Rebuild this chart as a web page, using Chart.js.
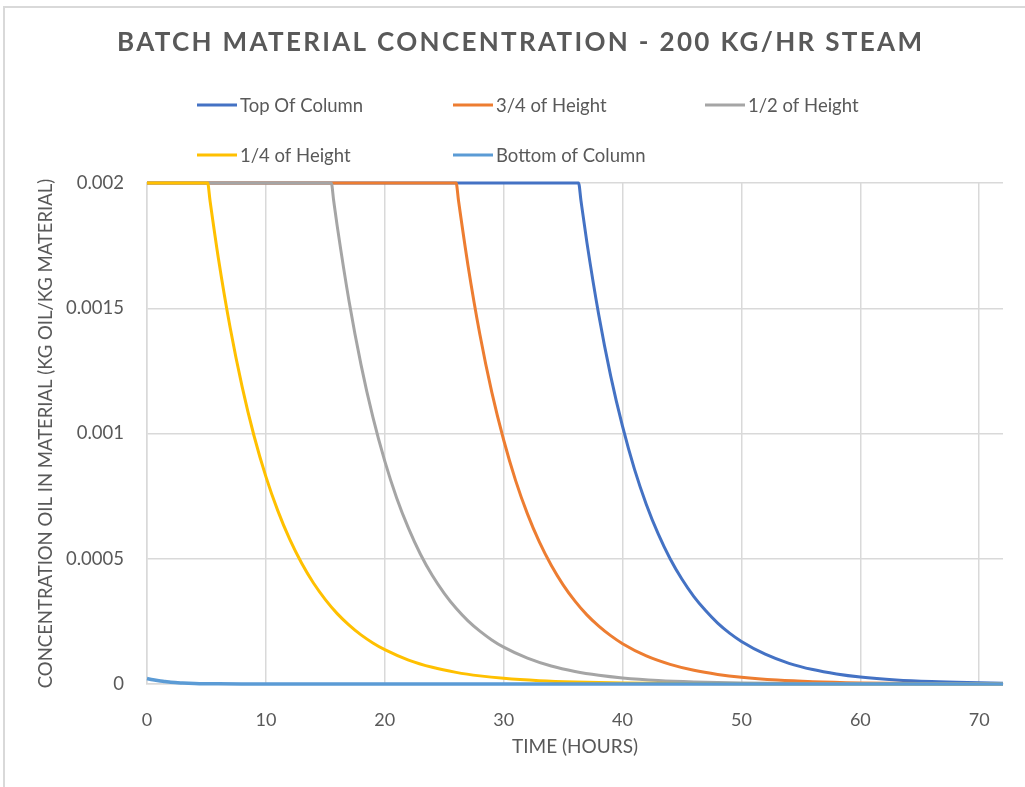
<!DOCTYPE html>
<html>
<head>
<meta charset="utf-8">
<title>Batch Material Concentration</title>
<script src="https://cdn.jsdelivr.net/npm/chart.js@4.4.1/dist/chart.umd.min.js"></script>
<style>
  html, body { margin: 0; padding: 0; background: #fff; }
  #wrap { width: 1025px; height: 787px; position: relative; }
</style>
</head>
<body>
<div id="wrap"><canvas id="chart"></canvas></div>
<script>
// Time (hours) and concentration (kg oil / kg material) for each sampling height
const topHours = [0, 36.3, 36.5, 37, 38, 39, 40, 41, 42, 43, 44, 45, 46, 47, 48, 49, 50, 52, 54, 56, 58, 60, 63, 66, 69, 72]
const topConc = [0.002, 0.002, 0.00193, 0.001763, 0.001473, 0.00123, 0.001028, 0.000858, 0.000717, 0.000599, 0.0005, 0.000418, 0.000349, 0.000292, 0.000243, 0.000203, 0.00017, 0.000119, 0.0000826, 0.0000576, 0.0000402, 0.000028, 0.0000164, 0.0000096, 0.0000056, 0.0000032]

const threeQuarterHours = [0, 26, 26.2, 27, 28, 29, 30, 31, 32, 33, 34, 35, 36, 37, 38, 39, 40, 42, 44, 46, 48, 50, 53, 56, 60, 65, 72]
const threeQuarterConc = [0.002, 0.002, 0.00193, 0.001671, 0.001395, 0.001165, 0.000974, 0.000813, 0.000679, 0.000567, 0.000474, 0.000396, 0.000331, 0.000276, 0.000231, 0.000193, 0.000161, 0.000112, 0.0000784, 0.0000546, 0.0000381, 0.0000266, 0.0000155, 0.000009, 0.0000044, 0.0000018, 0.0000005]

const halfHours = [0, 15.5, 15.7, 16, 17, 18, 19, 20, 21, 22, 23, 24, 25, 26, 27, 28, 29, 30, 32, 34, 36, 38, 40, 43, 46, 50, 55, 62, 72]
const halfConc = [0.002, 0.002, 0.00193, 0.001828, 0.001527, 0.001275, 0.001065, 0.00089, 0.000743, 0.000621, 0.000518, 0.000433, 0.000362, 0.000302, 0.000252, 0.000211, 0.000176, 0.000147, 0.000103, 0.0000716, 0.00005, 0.0000349, 0.0000244, 0.0000142, 0.0000083, 0.000004, 0.0000016, 0.0000005, 0.0000001]

const quarterHours = [0, 5.1, 5.3, 6, 7, 8, 9, 10, 11, 12, 13, 14, 15, 16, 17, 18, 19, 20, 22, 24, 26, 28, 30, 33, 36, 40, 45, 52, 72]
const quarterConc = [0.002, 0.002, 0.00193, 0.001701, 0.001421, 0.001187, 0.000991, 0.000828, 0.000692, 0.000578, 0.000483, 0.000403, 0.000337, 0.000281, 0.000235, 0.000196, 0.000164, 0.000137, 0.0000955, 0.0000666, 0.0000465, 0.0000324, 0.0000226, 0.0000132, 0.0000077, 0.0000037, 0.0000015, 0.0000004, 0]

const bottomHours = [0, 0.5, 1, 1.5, 2, 3, 4, 5, 6, 8, 72]
const bottomConc = [0.000022, 0.000017, 0.000013, 0.00001, 0.000007, 0.000004, 0.000002, 0.000001, 0.0000005, 0.0000001, 0]

const seriesNames = ['Top Of Column', '3/4 of Height', '1/2 of Height', '1/4 of Height', 'Bottom of Column']
const seriesColors = ['#4472C4', '#ED7D31', '#A5A5A5', '#FFC000', '#5B9BD5']
const xTickLabels = ['0', '10', '20', '30', '40', '50', '60', '70']
const yTickLabels = ['0', '0.0005', '0.001', '0.0015', '0.002']

const titleText = 'BATCH MATERIAL CONCENTRATION - 200 KG/HR STEAM'
const textColor = '#595959'
const gridColor = '#d9d9d9'
const fontFamily = "Lato, 'Open Sans', sans-serif"

const toPoints = (xs, ys) => xs.map((x, i) => ({ x, y: ys[i] }))

const seriesData = [
  toPoints(topHours, topConc),
  toPoints(threeQuarterHours, threeQuarterConc),
  toPoints(halfHours, halfConc),
  toPoints(quarterHours, quarterConc),
  toPoints(bottomHours, bottomConc),
]

// Excel-style frame, spaced title and column legend
const framePlugin = {
  id: 'frame',
  beforeDraw(chart) {
    const { ctx, width, height } = chart
    ctx.save()
    ctx.fillStyle = '#fff'
    ctx.fillRect(0, 0, width, height)
    ctx.strokeStyle = gridColor
    ctx.lineWidth = 2
    ctx.strokeRect(4, 7, width + 20, height + 20)
    ctx.restore()
  },
  afterDraw(chart) {
    const { ctx } = chart
    ctx.save()

    // title with letter spacing stretched across a fixed width
    ctx.font = `bold 26px ${fontFamily}`
    ctx.fillStyle = textColor
    ctx.textBaseline = 'middle'
    ctx.textAlign = 'left'
    ctx.letterSpacing = '0px'
    const plain = ctx.measureText(titleText).width
    const spacing = (805 - plain) / (titleText.length - 1)
    ctx.letterSpacing = spacing + 'px'
    ctx.fillText(titleText, 117, 43)
    ctx.letterSpacing = '0px'

    // legend laid out in three columns
    const colX = [197, 453, 705]
    const rowY = [105, 155]
    ctx.font = `18.5px ${fontFamily}`
    chart.data.datasets.forEach((ds, i) => {
      const x = colX[i % 3]
      const y = rowY[Math.floor(i / 3)]
      ctx.strokeStyle = ds.borderColor
      ctx.lineWidth = 3
      ctx.beginPath()
      ctx.moveTo(x, y)
      ctx.lineTo(x + 40, y)
      ctx.stroke()
      ctx.fillStyle = textColor
      ctx.fillText(ds.label, x + 43, y + 1)
    })
    ctx.restore()
  },
}

new Chart(document.getElementById('chart'), {
  type: 'line',
  data: {
    datasets: seriesData.map((points, i) => ({
      label: seriesNames[i],
      data: points,
      borderColor: seriesColors[i],
      backgroundColor: seriesColors[i],
      borderWidth: i === 4 ? 3.5 : 3,
      pointRadius: 0,
      cubicInterpolationMode: 'monotone',
      clip: 4,
      order: 4 - i,
    })),
  },
  options: {
    responsive: true,
    maintainAspectRatio: false,
    animation: false,
    layout: { padding: { top: 183, right: 22, bottom: 0, left: 0 } },
    plugins: {
      legend: { display: false },
      title: { display: false },
      tooltip: { enabled: false },
    },
    scales: {
      x: {
        type: 'linear',
        min: 0,
        max: 72,
        afterFit: (scale) => { scale.height = 103 },
        grid: { color: gridColor, lineWidth: 1.5, drawTicks: false },
        border: { color: gridColor, width: 1.5 },
        ticks: {
          stepSize: 10,
          includeBounds: false,
          padding: 25,
          color: textColor,
          font: { family: fontFamily, size: 18 },
          callback: (value, index) => xTickLabels[index],
        },
        title: {
          display: true,
          text: 'TIME (HOURS)',
          color: textColor,
          font: { family: fontFamily, size: 19 },
          padding: { top: 0, bottom: 29 },
        },
      },
      y: {
        min: 0,
        max: 0.002,
        afterFit: (scale) => { scale.width = 147 },
        grid: { color: gridColor, lineWidth: 1.5, drawTicks: false },
        border: { color: gridColor, width: 1.5 },
        ticks: {
          stepSize: 0.0005,
          padding: 23,
          color: textColor,
          font: { family: fontFamily, size: 18.5 },
          callback: (value, index) => yTickLabels[index],
        },
        title: {
          display: true,
          text: 'CONCENTRATION OIL IN MATERIAL (KG OIL/KG MATERIAL)',
          color: textColor,
          font: { family: fontFamily, size: 18.5 },
          padding: { top: 35, bottom: 0 },
        },
      },
    },
  },
  plugins: [framePlugin],
})
</script>
</body>
</html>
